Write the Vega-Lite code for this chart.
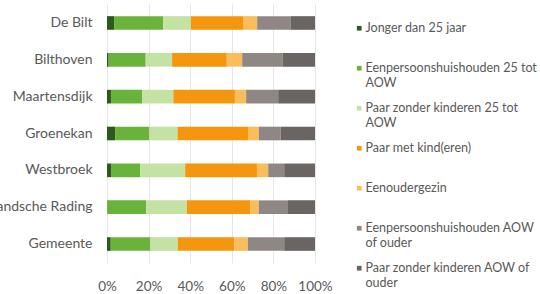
{
  "$schema": "https://vega.github.io/schema/vega-lite/v6.json",
  "width": 208,
  "height": 259,
  "autosize": {"type": "none"},
  "padding": {"left": 107, "top": 4, "right": 225, "bottom": 31},
  "background": "white",
  "config": {
    "view": {"stroke": null},
    "font": "Lato",
    "axis": {"labelColor": "#595959", "labelFont": "Lato"},
    "legend": {"labelFont": "Lato", "labelColor": "#595959"}
  },
  "data": {"values": [
    {"plaats": "De Bilt", "type": "Jonger dan 25 jaar", "o": 1, "pct": 3.4},
    {"plaats": "De Bilt", "type": "Eenpersoonshuishouden 25 tot AOW", "o": 2, "pct": 23.7},
    {"plaats": "De Bilt", "type": "Paar zonder kinderen 25 tot AOW", "o": 3, "pct": 13.2},
    {"plaats": "De Bilt", "type": "Paar met kind(eren)", "o": 4, "pct": 25.4},
    {"plaats": "De Bilt", "type": "Eenoudergezin", "o": 5, "pct": 6.5},
    {"plaats": "De Bilt", "type": "Eenpersoonshuishouden AOW of ouder", "o": 6, "pct": 16.2},
    {"plaats": "De Bilt", "type": "Paar zonder kinderen AOW of ouder", "o": 7, "pct": 11.6},
    {"plaats": "Bilthoven", "type": "Jonger dan 25 jaar", "o": 1, "pct": 0.8},
    {"plaats": "Bilthoven", "type": "Eenpersoonshuishouden 25 tot AOW", "o": 2, "pct": 17.8},
    {"plaats": "Bilthoven", "type": "Paar zonder kinderen 25 tot AOW", "o": 3, "pct": 12.7},
    {"plaats": "Bilthoven", "type": "Paar met kind(eren)", "o": 4, "pct": 26.3},
    {"plaats": "Bilthoven", "type": "Eenoudergezin", "o": 5, "pct": 7.4},
    {"plaats": "Bilthoven", "type": "Eenpersoonshuishouden AOW of ouder", "o": 6, "pct": 19.4},
    {"plaats": "Bilthoven", "type": "Paar zonder kinderen AOW of ouder", "o": 7, "pct": 15.6},
    {"plaats": "Maartensdijk", "type": "Jonger dan 25 jaar", "o": 1, "pct": 1.9},
    {"plaats": "Maartensdijk", "type": "Eenpersoonshuishouden 25 tot AOW", "o": 2, "pct": 15.1},
    {"plaats": "Maartensdijk", "type": "Paar zonder kinderen 25 tot AOW", "o": 3, "pct": 14.9},
    {"plaats": "Maartensdijk", "type": "Paar met kind(eren)", "o": 4, "pct": 29.6},
    {"plaats": "Maartensdijk", "type": "Eenoudergezin", "o": 5, "pct": 5.4},
    {"plaats": "Maartensdijk", "type": "Eenpersoonshuishouden AOW of ouder", "o": 6, "pct": 15.4},
    {"plaats": "Maartensdijk", "type": "Paar zonder kinderen AOW of ouder", "o": 7, "pct": 17.7},
    {"plaats": "Groenekan", "type": "Jonger dan 25 jaar", "o": 1, "pct": 3.9},
    {"plaats": "Groenekan", "type": "Eenpersoonshuishouden 25 tot AOW", "o": 2, "pct": 16.5},
    {"plaats": "Groenekan", "type": "Paar zonder kinderen 25 tot AOW", "o": 3, "pct": 13.5},
    {"plaats": "Groenekan", "type": "Paar met kind(eren)", "o": 4, "pct": 34.2},
    {"plaats": "Groenekan", "type": "Eenoudergezin", "o": 5, "pct": 4.9},
    {"plaats": "Groenekan", "type": "Eenpersoonshuishouden AOW of ouder", "o": 6, "pct": 10.5},
    {"plaats": "Groenekan", "type": "Paar zonder kinderen AOW of ouder", "o": 7, "pct": 16.5},
    {"plaats": "Westbroek", "type": "Jonger dan 25 jaar", "o": 1, "pct": 2.2},
    {"plaats": "Westbroek", "type": "Eenpersoonshuishouden 25 tot AOW", "o": 2, "pct": 13.7},
    {"plaats": "Westbroek", "type": "Paar zonder kinderen 25 tot AOW", "o": 3, "pct": 21.7},
    {"plaats": "Westbroek", "type": "Paar met kind(eren)", "o": 4, "pct": 34.5},
    {"plaats": "Westbroek", "type": "Eenoudergezin", "o": 5, "pct": 5.4},
    {"plaats": "Westbroek", "type": "Eenpersoonshuishouden AOW of ouder", "o": 6, "pct": 7.7},
    {"plaats": "Westbroek", "type": "Paar zonder kinderen AOW of ouder", "o": 7, "pct": 14.8},
    {"plaats": "Hollandsche Rading", "type": "Jonger dan 25 jaar", "o": 1, "pct": 0.2},
    {"plaats": "Hollandsche Rading", "type": "Eenpersoonshuishouden 25 tot AOW", "o": 2, "pct": 18.7},
    {"plaats": "Hollandsche Rading", "type": "Paar zonder kinderen 25 tot AOW", "o": 3, "pct": 19.5},
    {"plaats": "Hollandsche Rading", "type": "Paar met kind(eren)", "o": 4, "pct": 30.6},
    {"plaats": "Hollandsche Rading", "type": "Eenoudergezin", "o": 5, "pct": 4.0},
    {"plaats": "Hollandsche Rading", "type": "Eenpersoonshuishouden AOW of ouder", "o": 6, "pct": 14.0},
    {"plaats": "Hollandsche Rading", "type": "Paar zonder kinderen AOW of ouder", "o": 7, "pct": 13.0},
    {"plaats": "Gemeente", "type": "Jonger dan 25 jaar", "o": 1, "pct": 1.8},
    {"plaats": "Gemeente", "type": "Eenpersoonshuishouden 25 tot AOW", "o": 2, "pct": 19.1},
    {"plaats": "Gemeente", "type": "Paar zonder kinderen 25 tot AOW", "o": 3, "pct": 13.1},
    {"plaats": "Gemeente", "type": "Paar met kind(eren)", "o": 4, "pct": 27.2},
    {"plaats": "Gemeente", "type": "Eenoudergezin", "o": 5, "pct": 6.5},
    {"plaats": "Gemeente", "type": "Eenpersoonshuishouden AOW of ouder", "o": 6, "pct": 17.5},
    {"plaats": "Gemeente", "type": "Paar zonder kinderen AOW of ouder", "o": 7, "pct": 14.8}
  ]},
  "mark": {"type": "bar"},
  "encoding": {
    "y": {
      "field": "plaats", "type": "nominal",
      "sort": ["De Bilt", "Bilthoven", "Maartensdijk", "Groenekan", "Westbroek", "Hollandsche Rading", "Gemeente"],
      "scale": {"paddingInner": 0.63, "paddingOuter": 0.33},
      "axis": {"title": null, "domain": false, "ticks": false, "labelFontSize": 14, "labelPadding": 15, "grid": false, "labelLimit": 200}
    },
    "x": {
      "field": "pct", "type": "quantitative", "stack": "normalize",
      "scale": {"domain": [0, 1], "nice": false},
      "axis": {"title": null, "format": "%", "values": [0, 0.2, 0.4, 0.6, 0.8, 1], "domain": false, "ticks": false, "grid": true, "gridColor": "#e6e6e6", "labelFontSize": 13.5, "labelPadding": 16, "labelFlush": false}
    },
    "order": {"field": "o", "type": "quantitative"},
    "color": {
      "field": "type", "type": "nominal",
      "scale": {
        "domain": ["Jonger dan 25 jaar", "Eenpersoonshuishouden 25 tot AOW", "Paar zonder kinderen 25 tot AOW", "Paar met kind(eren)", "Eenoudergezin", "Eenpersoonshuishouden AOW of ouder", "Paar zonder kinderen AOW of ouder"],
        "range": ["#2c5a1b", "#6ab33a", "#c4e2a4", "#f5960f", "#fabd5c", "#8e8784", "#6a6462"]
      },
      "legend": {
        "title": null,
        "orient": "none",
        "legendX": 246,
        "legendY": 18,
        "symbolType": "square",
        "symbolSize": 22,
        "symbolStrokeWidth": 0,
        "labelFontSize": 12.5,
        "labelOffset": 0,
        "labelLimit": 300,
        "rowPadding": 12,
        "labelExpr": "datum.label == 'Eenpersoonshuishouden 25 tot AOW' ? ['Eenpersoonshuishouden 25 tot', 'AOW'] : datum.label == 'Paar zonder kinderen 25 tot AOW' ? ['Paar zonder kinderen 25 tot', 'AOW'] : datum.label == 'Eenpersoonshuishouden AOW of ouder' ? ['Eenpersoonshuishouden AOW', 'of ouder'] : datum.label == 'Paar zonder kinderen AOW of ouder' ? ['Paar zonder kinderen AOW of', 'ouder'] : [datum.label, ' ']"
      }
    }
  }
}
